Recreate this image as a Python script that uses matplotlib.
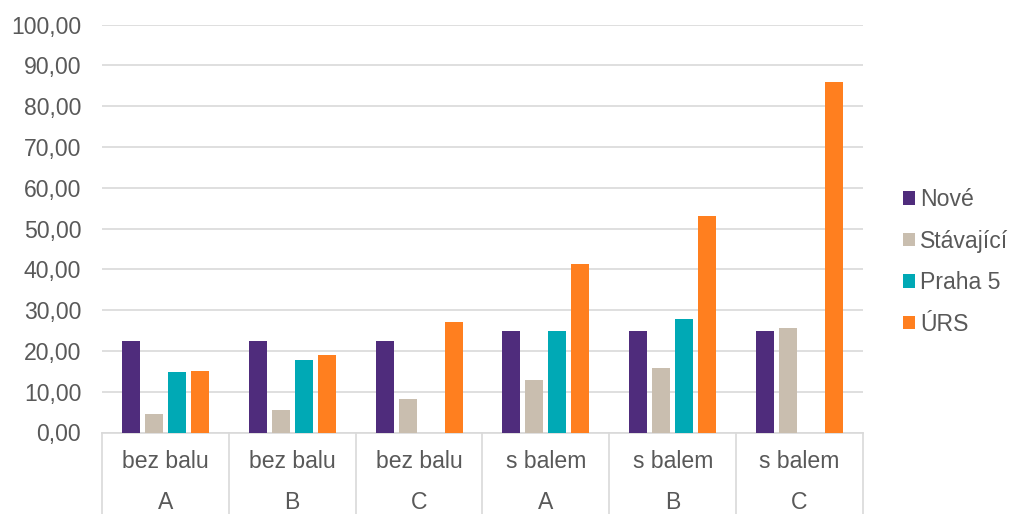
import numpy as np
import matplotlib.pyplot as plt
from matplotlib.patches import Patch

# data
level1 = ["bez balu", "bez balu", "bez balu", "s balem", "s balem", "s balem"]
level2 = ["A", "B", "C", "A", "B", "C"]
series = ["Nové", "Stávající", "Praha 5", "ÚRS"]
nove = [22.4, 22.4, 22.4, 24.8, 24.8, 24.8]
stavajici = [4.6, 5.6, 8.1, 12.8, 15.7, 25.6]
praha5 = [14.8, 17.9, np.nan, 24.8, 27.8, np.nan]
urs = [15.2, 19.0, 27.0, 41.3, 53.1, 86.0]
colors = ["#4f2c7c", "#c9beaf", "#00a9b5", "#ff7f1f"]

plt.rcParams['font.family'] = ['Liberation Sans', 'DejaVu Sans']
text_color = "#595959"
grid_color = "#d9d9d9"
fs = 16.6

fig = plt.figure(figsize=(10.12, 5.14), dpi=100)
ax = fig.add_axes([102 / 1012, 1 - 432.5 / 514, 761 / 1012, 407.8 / 514])

x = np.arange(len(level1))
step = 0.181
width = 0.142
values = [nove, stavajici, praha5, urs]
for i, (name, vals) in enumerate(zip(series, values)):
    ax.bar(x + (i - 1.5) * step, vals, width=width, color=colors[i], label=name, zorder=3)

ax.set_xlim(-0.5, len(level1) - 0.5)
ax.set_ylim(0, 100)
ax.set_yticks(np.arange(0, 101, 10))
ax.set_yticklabels([f"{v:.2f}".replace(".", ",") for v in range(0, 101, 10)])
ax.tick_params(axis='y', length=0, pad=15, labelsize=fs, labelcolor=text_color)
ax.set_xticks([])
ax.grid(axis='y', color=grid_color, linewidth=1.2, zorder=0)
for s in ["top", "right", "left"]:
    ax.spines[s].set_visible(False)
ax.spines["bottom"].set_color(grid_color)
ax.spines["bottom"].set_linewidth(1.2)

# two-level category axis
trans = ax.get_xaxis_transform()
bottom = -82 / 407.8
for edge in np.arange(-0.5, len(level1), 1.0):
    ax.plot([edge, edge], [0, bottom], transform=trans, color=grid_color,
            linewidth=1.2, clip_on=False)
for xi, (a, b) in enumerate(zip(level1, level2)):
    ax.text(xi, -29 / 407.8, a, transform=trans, ha='center', va='center',
            fontsize=fs, color=text_color)
    ax.text(xi, -70 / 407.8, b, transform=trans, ha='center', va='center',
            fontsize=fs, color=text_color)

handles = [Patch(facecolor=c, edgecolor='none') for c in colors]
fig.legend(handles, series, loc='center left', bbox_to_anchor=(903 / 1012, 1 - 262 / 514),
           frameon=False, fontsize=fs, labelcolor=text_color, handlelength=0.53,
           handleheight=0.53, handletextpad=0.2, labelspacing=0.8, borderpad=0,
           borderaxespad=0)

fig.savefig("out.png", dpi=100)
